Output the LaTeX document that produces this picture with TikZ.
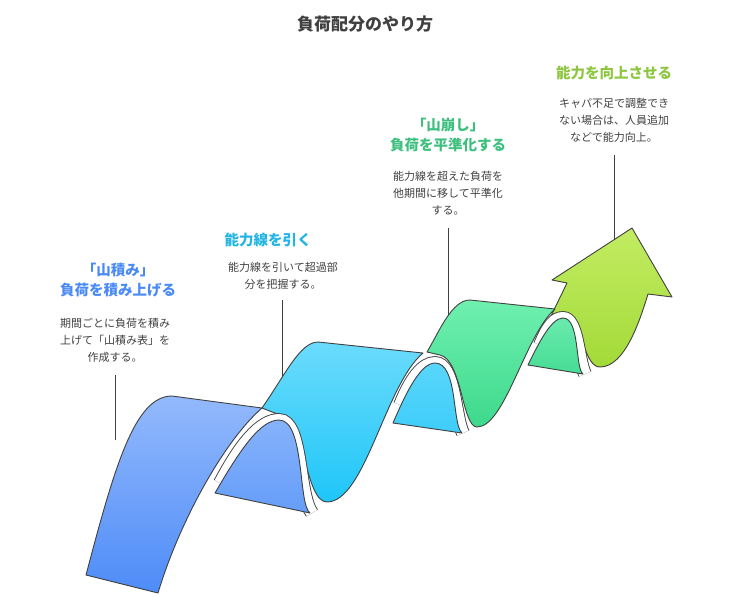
\documentclass[tikz,border=0pt]{standalone}
\usepackage{fontspec}
\setmainfont{Noto Sans CJK JP}
\definecolor{cB}{HTML}{4A8AF4}\definecolor{cC}{HTML}{22B5E3}
\definecolor{cG}{HTML}{3DBF7E}\definecolor{cY}{HTML}{8DC63F}
\definecolor{a1}{HTML}{C2EC62}\definecolor{a2}{HTML}{A3DA38}
\definecolor{g1}{HTML}{6AEBAE}\definecolor{g2}{HTML}{46DC95}
\definecolor{g3}{HTML}{6FF0AF}\definecolor{g4}{HTML}{3DD98C}
\definecolor{c1}{HTML}{58D6FB}\definecolor{c2}{HTML}{3FCDFA}
\definecolor{c3}{HTML}{6BDBFC}\definecolor{c4}{HTML}{1EC6F8}
\definecolor{b1}{HTML}{86B2FB}\definecolor{b2}{HTML}{659DF9}
\definecolor{b3}{HTML}{93B9FC}\definecolor{b4}{HTML}{4E8CF8}
\begin{document}
\begin{tikzpicture}[x=1pt,y=-1pt,
  edge/.style={draw=black!75,line width=0.9pt,line join=round},
  band/.style={draw=black!75,double=white,double distance=12pt,line width=0.9pt},
  title/.style={font=\bfseries\fontsize{17}{20}\selectfont,text=black!75},
  head/.style={font=\bfseries\fontsize{14.5}{20}\selectfont,align=center},
  desc/.style={font=\fontsize{11}{17}\selectfont,align=center,text=black!75},
  lead/.style={draw=black!75,line width=0.9pt}]
\useasboundingbox (0,0) rectangle (730,598);

% leader lines
\draw[lead] (115,375) -- (115,440);
\draw[lead] (282,300) -- (282,380);
\draw[lead] (448,228) -- (448,320);
\draw[lead] (614,155) -- (614,240);

% arrow (seg4)
\path[edge,top color=a1,bottom color=a2]
  (550,318) -- (567,283) -- (552,280) -- (632,228) -- (672,297) -- (648,294)
  .. controls (640,320) and (625,367) .. (600,367)
  .. controls (585,367) and (583,330) .. (570,318) -- cycle;
% back3
\path[band] (540,345) .. controls (548,325) and (555,318) .. (563,318) .. controls (578,318) and (578,360) .. (585,374);
\path[edge,top color=g1,bottom color=g2]
  (528,365) -- (583,374) .. controls (575,368) and (580,318) .. (563,318)
  .. controls (552,318) and (540,340) .. (528,365) -- cycle;
% front3
\path[edge,top color=g3,bottom color=g4]
  (427,352) .. controls (440,330) and (452,300) .. (470,300) -- (555,309)
  .. controls (525,335) and (505,427) .. (477,427)
  .. controls (462,427) and (462,360) .. (440,355) -- cycle;
% back2
\path[band] (400,405) .. controls (410,380) and (422,363) .. (435,363) .. controls (455,363) and (455,418) .. (463,433);
\path[edge,top color=c1,bottom color=c2]
  (393,423) -- (462,433) .. controls (452,425) and (458,363) .. (435,363)
  .. controls (420,363) and (405,395) .. (393,423) -- cycle;
% front2
\path[edge,top color=c3,bottom color=c4]
  (262,408) .. controls (285,375) and (300,342) .. (318,342) -- (423,353)
  .. controls (385,385) and (365,502) .. (327,502)
  .. controls (305,502) and (305,420) .. (280,415) -- cycle;
% back1
\path[band] (220,483) .. controls (240,445) and (260,420) .. (279,420) .. controls (303,420) and (298,495) .. (312,513);
\path[edge,top color=b1,bottom color=b2]
  (215,493) -- (310,513) .. controls (298,505) and (305,420) .. (279,420)
  .. controls (260,420) and (240,450) .. (215,493) -- cycle;
% front1
\path[edge,top color=b3,bottom color=b4]
  (86,575) .. controls (115,465) and (135,396) .. (172,396) -- (262,408)
  .. controls (225,440) and (180,520) .. (158,593) -- cycle;

% texts
\node[title] (t) at (365,24) {負荷配分のやり方};
\node[head,text=cB] (h1) at (118,280) {「山積み」\\負荷を積み上げる};
\node[desc] (d1) at (115,340) {期間ごとに負荷を積み\\上げて「山積み表」を\\作成する。};
\node[head,text=cC] (h2) at (268,240) {能力線を引く};
\node[desc] (d2) at (283,276) {能力線を引いて超過部\\分を把握する。};
\node[head,text=cG] (h3) at (448,135) {「山崩し」\\負荷を平準化する};
\node[desc] (d3) at (448,193) {能力線を超えた負荷を\\他期間に移して平準化\\する。};
\node[head,text=cY] (h4) at (614,73) {能力を向上させる};
\node[desc] (d4) at (614,120) {キャパ不足で調整でき\\ない場合は、人員追加\\などで能力向上。};
\end{tikzpicture}
\end{document}
